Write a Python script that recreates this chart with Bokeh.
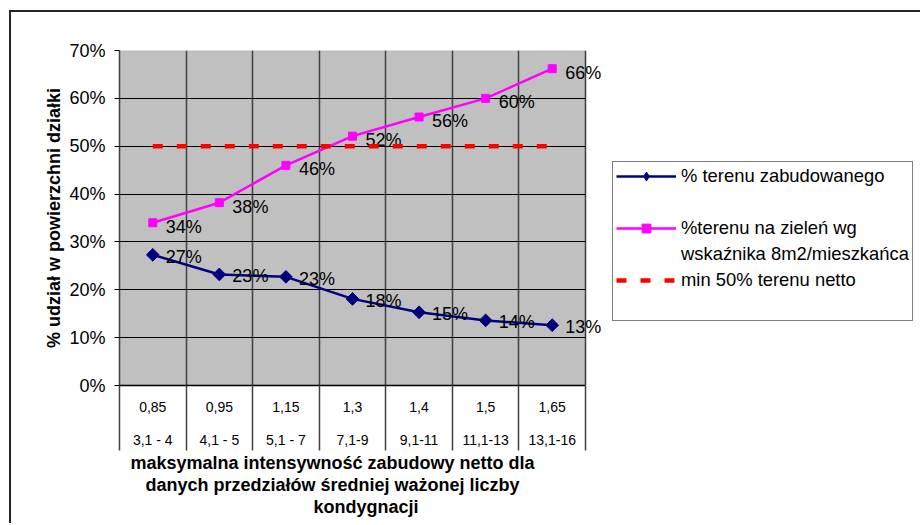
import math

from bokeh.core.properties import value
from bokeh.embed import file_html
from bokeh.models import (BoxAnnotation, ColumnDataSource, FixedTicker, Legend,
                          LegendItem, LinearAxis, PrintfTickFormatter, Range1d, Title)
from bokeh.plotting import figure
from bokeh.resources import INLINE

# --- data -----------------------------------------------------------------
intensity = ["0,85", "0,95", "1,15", "1,3", "1,4", "1,5", "1,65"]
storeys = ["3,1 - 4", "4,1 - 5", "5,1 - 7", "7,1-9", "9,1-11", "11,1-13", "13,1-16"]
built_share = [27.3, 23.2, 22.7, 18.1, 15.3, 13.6, 12.6]
green_share = [34.0, 38.2, 46.0, 52.1, 56.1, 60.0, 66.2]
min_share = [50, 50, 50, 50, 50, 50, 50]
y_ticks = [0, 10, 20, 30, 40, 50, 60, 70]
x_title = ["maksymalna intensywność zabudowy netto dla",
           "danych przedziałów średniej ważonej liczby",
           "kondygnacji"]

FONT = "Liberation Sans"
W, H = 911, 513            # canvas, inside the chart-area border
LEFT, TOP, BOTTOM = 108, 38, 140
AREA_W = 466               # width of the grey plot area in pixels
n = len(intensity)
centers = [i + 0.5 for i in range(n)]
edges = list(range(n + 1))

src = ColumnDataSource(dict(
    x=centers,
    built=built_share,
    green=green_share,
    minimum=min_share,
    built_lbl=[f"{v:.0f}%" for v in built_share],
    green_lbl=[f"{v:.0f}%" for v in green_share],
))

# the frame runs to the right edge so that labels and legend beside the
# grey plot area are not clipped
x_end = n * (W - LEFT) / AREA_W
p = figure(width=W, height=H, output_backend="svg", toolbar_location=None,
           x_range=Range1d(0, x_end), y_range=Range1d(0, 70),
           min_border_left=LEFT, min_border_right=0,
           min_border_top=TOP, min_border_bottom=BOTTOM)
p.styles = {"margin-left": "9px", "margin-top": "10px",
            "border-left": "2px solid #262626", "border-top": "2px solid #262626"}

p.background_fill_color = "white"
p.border_fill_color = "white"
p.outline_line_color = None

# grey plot area
p.add_layout(BoxAnnotation(left=0, right=n, bottom=0, top=70,
                           fill_color="#C0C0C0", fill_alpha=1,
                           line_color="#808080", line_width=1.5, level="image"))

# grid: category boundaries (vertical) and percent steps (horizontal)
p.xgrid.ticker = FixedTicker(ticks=edges)
p.xgrid.grid_line_color = "#404040"
p.xgrid.grid_line_width = 1.5
p.ygrid.ticker = FixedTicker(ticks=y_ticks[1:])
p.ygrid.grid_line_color = "black"
p.ygrid.grid_line_width = 1
p.ygrid.cross_bounds = (0, n)

# y axis
ya = p.yaxis[0]
ya.ticker = FixedTicker(ticks=y_ticks)
ya.formatter = PrintfTickFormatter(format="%d%%")
ya.major_tick_out = 5
ya.major_tick_in = 0
ya.minor_tick_line_color = None
ya.axis_line_color = "#404040"
ya.axis_line_width = 1.5
ya.major_tick_line_color = "black"
ya.major_label_standoff = 9
ya.major_label_text_font = FONT
ya.major_label_text_font_size = "18px"
ya.major_label_text_color = "black"
ya.axis_label = "% udział w powierzchni działki"
ya.axis_label_text_font = FONT
ya.axis_label_text_font_size = "18px"
ya.axis_label_text_font_style = "bold"
ya.axis_label_text_color = "black"
ya.axis_label_standoff = 2

# x axis, first row: intensity values; minor ticks draw the cell separators
xa = p.xaxis[0]
xa.bounds = (0, n)
xa.ticker = FixedTicker(ticks=centers, minor_ticks=edges)
xa.major_label_overrides = {c: t for c, t in zip(centers, intensity)}
xa.major_tick_out = 0
xa.major_tick_in = 0
xa.minor_tick_out = 65
xa.minor_tick_in = 0
xa.minor_tick_line_color = "#404040"
xa.minor_tick_line_width = 1.5
xa.axis_line_color = "black"
xa.axis_line_width = 1.5
xa.major_label_standoff = -49
xa.major_label_text_font = FONT
xa.major_label_text_font_size = "14px"
xa.major_label_text_color = "black"

# x axis, second row: storey ranges
xa2 = LinearAxis(ticker=FixedTicker(ticks=centers), bounds=(0, n),
                 major_label_overrides={c: t for c, t in zip(centers, storeys)},
                 axis_line_color=None, major_tick_line_color=None,
                 minor_tick_line_color=None,
                 major_label_standoff=11,
                 major_label_text_font=FONT, major_label_text_font_size="14px",
                 major_label_text_color="black")
p.add_layout(xa2, "below")

# x axis title, one line per row
for line, off in zip(x_title, (11, 26, 194)):
    p.add_layout(Title(text=line, align="left", offset=off, standoff=0,
                       text_font=FONT, text_font_size="18px",
                       text_font_style="bold", text_color="black"), "below")

# series
r_gl = p.line("x", "green", source=src, line_color="#FF00FF", line_width=2.5)
r_gm = p.scatter("x", "green", source=src, marker="square", size=8,
                 fill_color="#FF00FF", line_color="#FF00FF")
r_bl = p.line("x", "built", source=src, line_color="#000080", line_width=2.5)
r_bm = p.scatter("x", "built", source=src, marker="square", angle=math.pi / 4,
                 size=9, fill_color="#000080", line_color="#000080")
# diamond marker used for the legend swatch (legend markers are never rotated)
r_bd = p.scatter("x", "built", source=src, marker="diamond", size=13,
                 fill_color="#000080", line_color="#000080", visible=False)

for col, lbl, dy in (("built", "built_lbl", 2), ("green", "green_lbl", 4)):
    p.text("x", col, text=lbl, source=src, x_offset=13, y_offset=dy,
           text_align="left", text_baseline="middle",
           text_font=value(FONT), text_font_size="18px", text_color="black")

# 50% minimum, drawn on top of the other series and their labels
r_min = p.line("x", "minimum", source=src, line_color="#FF0000", line_width=4.5,
               line_dash="10 14", line_cap="butt")

legend = Legend(items=[
    LegendItem(label="% terenu zabudowanego", renderers=[r_bl, r_bd]),
    LegendItem(label=" ", renderers=[]),
    LegendItem(label="%terenu na zieleń wg", renderers=[r_gl, r_gm]),
    LegendItem(label="wskaźnika 8m2/mieszkańca", renderers=[]),
    LegendItem(label="min 50% terenu netto", renderers=[r_min]),
], location=(493, 64))
legend.glyph_width = 60
legend.glyph_height = 22
legend.label_height = 22
legend.label_standoff = 5
legend.spacing = 4
legend.padding = 3
legend.margin = 0
legend.title = " "
legend.title_location = "below"
legend.title_text_font_size = "12px"
legend.title_standoff = 12
legend.border_line_color = "black"
legend.border_line_width = 1.5
legend.background_fill_color = "white"
legend.background_fill_alpha = 1
legend.label_text_font = FONT
legend.label_text_font_size = "18.4px"
legend.label_text_color = "black"
p.add_layout(legend)

open("out.html", "w").write(file_html(p, INLINE))
